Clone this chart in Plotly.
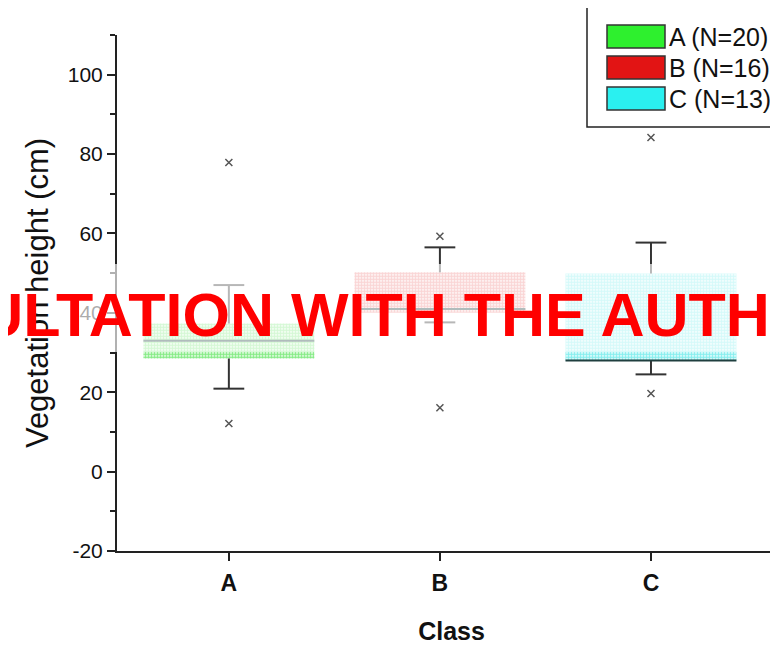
import plotly.graph_objects as go

# ---- data ----
categories = ["A", "B", "C"]
n_counts = [20, 16, 13]
q1 = [28.5, 40.0, 28.0]
median = [33.0, 41.0, 28.0]
q3 = [37.3, 50.2, 49.9]
lower_whisker = [20.9, 37.6, 24.5]
upper_whisker = [47.0, 56.5, 57.7]
outliers = [[77.9, 12.1], [59.3, 16.1], [84.2, 19.7]]
y_ticks = [-20, 0, 20, 40, 60, 80, 100]
y_minor_ticks = [-10, 10, 30, 50, 70, 90, 110]

fill_colors = ["#10d810", "#e01010", "#10dede"]
legend_colors = ["#2ef02e", "#e21414", "#2af0f0"]

xpos = [1, 2, 3]
BOX_W = 0.81

fig = go.Figure()

# boxes (stippled)
for i, c in enumerate(categories):
    fig.add_trace(go.Bar(
        x=[xpos[i]], y=[q3[i] - q1[i]], base=[q1[i]], width=BOX_W,
        marker=dict(color="white", line=dict(width=0),
                    pattern=dict(shape=".", fgcolor=fill_colors[i], bgcolor="white",
                                 size=3, solidity=0.7)),
        showlegend=False, hoverinfo="skip"))

# whiskers
wx, wy = [], []
for i in range(len(categories)):
    wx += [xpos[i], xpos[i], None, xpos[i], xpos[i], None]
    wy += [q3[i], upper_whisker[i], None, q1[i], lower_whisker[i], None]
fig.add_trace(go.Scatter(x=wx, y=wy, mode="lines",
                         line=dict(color="#333333", width=2),
                         showlegend=False, hoverinfo="skip"))

# whisker caps
cx, cy = [], []
for i in range(len(categories)):
    cx += [xpos[i], xpos[i]]
    cy += [upper_whisker[i], lower_whisker[i]]
fig.add_trace(go.Scatter(x=cx, y=cy, mode="markers",
                         marker=dict(symbol="line-ew", size=22,
                                     line=dict(color="#333333", width=2)),
                         showlegend=False, hoverinfo="skip"))

# medians
mx, my = [], []
for i in range(len(categories)):
    mx += [xpos[i] - BOX_W / 2, xpos[i] + BOX_W / 2, None]
    my += [median[i], median[i], None]
fig.add_trace(go.Scatter(x=mx, y=my, mode="lines",
                         line=dict(color="#1f3f3f", width=2),
                         showlegend=False, hoverinfo="skip"))

# outliers
ox, oy = [], []
for i in range(len(categories)):
    for v in outliers[i]:
        ox.append(xpos[i])
        oy.append(v)
fig.add_trace(go.Scatter(x=ox, y=oy, mode="markers",
                         marker=dict(symbol="x-thin", size=7,
                                     line=dict(color="#555555", width=1.5)),
                         showlegend=False, hoverinfo="skip"))

# ---- layout geometry ----
# the page body adds an 8px offset; margins compensate so the plot area
# spans screen x 117..786 and y 35..551
OFF = 8
W, H = 778, 645
L, R, T, B = 117 - OFF, 0, 35 - OFF, H + OFF - 551
pw, ph = W - L - R, H - T - B


def px(xs):
    # screen pixel -> paper fraction
    return (xs - OFF - L) / pw


def py(ys):
    return (H - B - (ys - OFF)) / ph


shapes = []
annotations = []

# legend box
shapes.append(dict(type="rect", xref="paper", yref="paper",
                   x0=px(587), x1=px(800), y0=py(127), y1=py(7),
                   line=dict(color="#222222", width=1.5), fillcolor="white", layer="above"))
for i, c in enumerate(categories):
    top = 25 + 31 * i
    shapes.append(dict(type="rect", xref="paper", yref="paper",
                       x0=px(607), x1=px(665), y0=py(top + 23), y1=py(top),
                       line=dict(color="#333333", width=1.5),
                       fillcolor=legend_colors[i], layer="above"))
    annotations.append(dict(xref="paper", yref="paper", x=px(667), y=py(top + 11.5),
                            xanchor="left", yanchor="middle", showarrow=False,
                            text=f"{c} (N={n_counts[i]})",
                            font=dict(family="Arial, Liberation Sans", size=25, color="#111111")))

# watermark fade band + text
shapes.append(dict(type="rect", xref="paper", yref="paper",
                   x0=px(-10), x1=px(800), y0=py(352), y1=py(264),
                   line=dict(width=0), fillcolor="rgba(255,255,255,0.65)", layer="above"))
annotations.append(dict(xref="paper", yref="paper", x=px(332), y=py(315),
                        xanchor="center", yanchor="middle", showarrow=False,
                        text="<b>CONSULTATION WITH THE AUTHOR</b>",
                        font=dict(family="Arial, Liberation Sans", size=61, color="#ff0000")))

fig.update_layout(
    width=W, height=H,
    margin=dict(l=L, r=R, t=T, b=B),
    paper_bgcolor="white", plot_bgcolor="white",
    barmode="overlay",
    showlegend=False,
    shapes=shapes,
    annotations=annotations,
    font=dict(family="Arial, Liberation Sans", color="#111111"),
)

fig.update_xaxes(
    range=[0.47, 3 + 135 / 211], tickvals=xpos, ticktext=[f"<b>{c}</b>" for c in categories],
    showline=True, linecolor="#222222", linewidth=2, mirror=False,
    ticks="outside", ticklen=8, tickwidth=2, tickcolor="#222222",
    showgrid=False, zeroline=False,
    tickfont=dict(size=23, color="#111111"), ticklabelstandoff=2,
    title=dict(text="<b>Class</b>", font=dict(size=25, color="#111111"), standoff=28),
)
fig.update_yaxes(
    range=[-20, 110], tickvals=y_ticks, ticktext=[str(v) for v in y_ticks],
    showline=True, linecolor="#222222", linewidth=2,
    ticks="outside", ticklen=8, tickwidth=2, tickcolor="#222222",
    minor=dict(tickvals=y_minor_ticks, ticks="outside", ticklen=5,
               tickwidth=2, tickcolor="#222222"),
    showgrid=False, zeroline=False,
    tickfont=dict(size=21, color="#111111"),
    title=dict(text="Vegetation height (cm)", font=dict(size=31, color="#111111"), standoff=10),
)

fig.write_html("out.html")
